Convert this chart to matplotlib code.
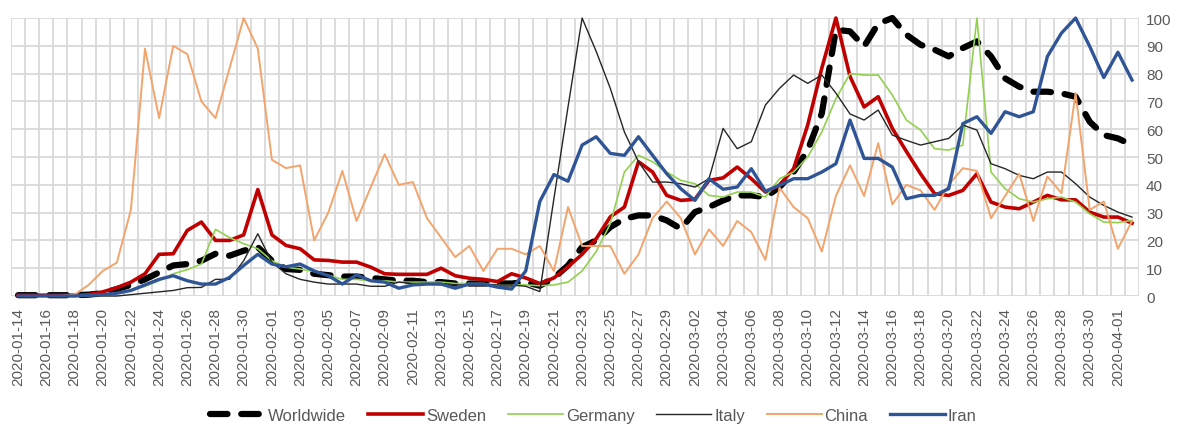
import numpy as np
import pandas as pd
import matplotlib
matplotlib.use("Agg")
import matplotlib.pyplot as plt

dates = pd.date_range("2020-01-14", "2020-04-02", freq="D")
tick_labels = [d.strftime("%Y-%m-%d") for d in dates]

worldwide = [0.3, 0.3, 0.3, 0.3, 0.3, 0.5, 1, 2.5, 4, 6,
             8.5, 11, 11.5, 12.7, 15.2, 14.5, 16.3, 17.6, 12.7, 9.7,
             9.4, 8, 7.5, 7, 7, 6.5, 6, 5.5, 5.5, 5,
             5, 4.5, 4.5, 4.5, 4.5, 4.5, 5, 3.7, 6.5, 11,
             17.6, 20, 24.8, 27.8, 29, 29, 27.2, 24.2, 30.2, 32,
             34.4, 36.2, 36.2, 35.6, 39.2, 44.6, 52.5, 65.7, 95.8, 95.2,
             89.8, 98, 100, 94, 90.4, 88.6, 86.2, 89.2, 91.6, 86.2,
             78.3, 75.3, 73.5, 73.5, 72.9, 71.7, 62.7, 57.9, 56.7, 54.3]

sweden = [0.3, 0.3, 0.3, 0.3, 0.3, 0.5, 1.5, 3, 5, 8,
          15, 15.2, 23.6, 26.6, 20, 20, 22, 38.3, 22, 18.2,
          17, 13, 12.8, 12.2, 12.2, 10.4, 8, 7.8, 7.8, 7.8,
          10, 7.3, 6.4, 6, 5.2, 8, 6.5, 4.5, 6.5, 10.5,
          15, 20.6, 28.5, 32, 48.3, 44.6, 36.2, 34.4, 34.8, 41.6,
          42.5, 46.4, 42.2, 37.4, 39.8, 45.8, 61.5, 82, 100, 79,
          68, 71.7, 60.3, 52, 44, 36.8, 36.2, 38, 44, 33.8,
          32, 31.4, 33.8, 36.2, 34.6, 34.6, 30.2, 28.4, 28.4, 26.2]

germany = [0, 0, 0, 0, 0, 0, 0.5, 1, 2, 3.5,
           5.5, 8, 9.5, 11.5, 24, 21, 18.8, 17, 12.7, 10.4,
           9.7, 8.8, 7.5, 6, 6, 5.5, 5.5, 5, 5, 5,
           5, 4.5, 4.5, 4.5, 4, 4, 4, 3.7, 4, 5,
           9, 16, 26, 44.6, 50.6, 48.3, 44.6, 41.6, 40.4, 36.2,
           35.6, 37.4, 37.4, 35.6, 42.2, 44.6, 50, 59, 71, 80,
           79.5, 79.5, 72.3, 63.3, 59.7, 53, 52.5, 54.3, 100, 44.6,
           38.6, 35, 33.8, 35, 35.6, 33.8, 29.6, 26.6, 26.4, 27.2]

italy = [0, 0, 0, 0, 0, 0, 0, 0, 0.5, 1,
         1.5, 2, 3, 3.1, 6, 6, 12.7, 22.4, 12.2, 8,
         6, 5, 4.3, 4.3, 4.3, 3.5, 3.5, 5, 4.5, 4.5,
         4.5, 4, 4, 4, 4, 4, 3.5, 1.6, 35, 68,
         100, 88, 74.7, 59, 48.3, 41, 41, 40.4, 39.2, 42.2,
         60.3, 53, 55.5, 68.7, 74.7, 79.5, 76.5, 79.5, 73, 65.5,
         63.3, 66.9, 57.9, 56, 54.3, 55.5, 56.7, 61.5, 59.7, 47.6,
         45.8, 43.4, 42.2, 44.6, 44.6, 40.4, 35.6, 32.6, 30.2, 28.4]

china = [0, 0, 0, 0, 0.5, 4, 9, 12, 31, 89,
         64, 90, 87, 70, 64, 82, 100, 89, 49, 46,
         47, 20, 30, 45, 27, 39, 51, 40, 41, 28,
         21, 14, 18, 9, 17, 17, 15, 18, 9, 32,
         18, 18, 18, 8, 15, 28, 34, 28, 15, 24,
         18, 27, 23, 13, 39, 32, 28, 16, 36, 47,
         36, 55, 33, 40, 38, 31, 40, 46, 45, 28,
         36, 44, 27, 43, 37, 73, 31, 34, 17, 27]

iran = [0, 0, 0, 0, 0, 0.3, 0.5, 1, 2, 4,
        6, 7.3, 5.5, 4.3, 4.3, 6.7, 11, 15, 11.5, 10.5,
        11.5, 9, 7.3, 4.3, 7.6, 5.5, 5, 2.8, 4, 4.3,
        4.3, 2.8, 4.3, 4.3, 3.2, 2.5, 9, 34, 43.7, 41.3,
        54.3, 57.3, 51.3, 50.6, 57.3, 50.6, 44, 38.6, 34.4, 42.2,
        38.4, 39.2, 45.8, 37.7, 39.8, 42.2, 42.2, 44.6, 47.6, 63.3,
        49.5, 49.5, 46.4, 35, 36.2, 36.2, 38.6, 62, 64.5, 58.5,
        66.3, 64.5, 66.3, 86.2, 94.6, 100, 89.8, 78.6, 87.7, 77.7]

plt.rcParams["font.family"] = ["Liberation Sans", "DejaVu Sans"]

fig = plt.figure(figsize=(11.88, 4.27), dpi=100)
ax = fig.add_axes([0.0093, 0.3044, 0.9495, 0.651])

x = np.arange(len(dates))
grey = "#595959"

ax.plot(x, worldwide, color="black", lw=4.5, linestyle=(0, (2.8, 2.2)),
        dash_capstyle="round", label="Worldwide", clip_on=False)
ax.plot(x, sweden, color="#c00000", lw=2.6, label="Sweden", clip_on=False)
ax.plot(x, germany, color="#92d050", lw=1.2, label="Germany", clip_on=False)
ax.plot(x, italy, color="#262626", lw=1.0, label="Italy", clip_on=False)
ax.plot(x, china, color="#f2a46c", lw=1.4, label="China", clip_on=False)
ax.plot(x, iran, color="#2f5597", lw=2.4, label="Iran", clip_on=False)

ax.set_xlim(-0.5, len(dates) - 0.5)
ax.set_ylim(0, 100)
ax.set_yticks(np.arange(0, 101, 10))
ax.yaxis.tick_right()
ax.set_xticks(x[::2])
ax.set_xticklabels(tick_labels[::2], rotation=90)
ax.set_xticks(np.arange(-0.5, len(dates), 1), minor=True)
ax.tick_params(axis="both", which="both", length=0, labelsize=11, labelcolor=grey)
ax.tick_params(axis="x", pad=8)
ax.tick_params(axis="y", pad=5)

ax.grid(axis="y", which="major", color="#d9d9d9", lw=1.3)
ax.grid(axis="x", which="minor", color="#d9d9d9", lw=1.3)
ax.set_axisbelow(True)
for s in ax.spines.values():
    s.set_visible(False)

fig.legend(loc="center", bbox_to_anchor=(0.4996, 0.024), ncol=6, frameon=False,
           fontsize=12, handlelength=3.3, handletextpad=0.18, columnspacing=1.3,
           labelcolor=grey)

fig.savefig("out.png", dpi=100)
